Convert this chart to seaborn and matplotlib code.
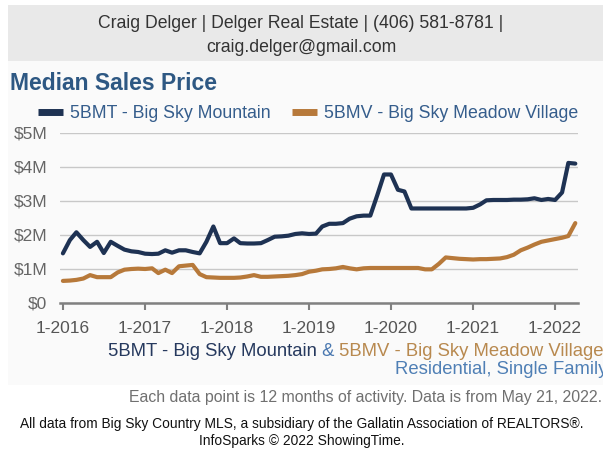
import numpy as np
import pandas as pd
import matplotlib
matplotlib.use('Agg')
import matplotlib.pyplot as plt
import matplotlib.dates as mdates
from matplotlib.lines import Line2D
from matplotlib.patches import Rectangle
import seaborn as sns

# monthly points, Jan 2016 .. Apr 2022 (rolling 12 months), values in $M
months = pd.date_range('2016-01-01', '2022-04-01', freq='MS')
mountain_price_m = [
    1.46, 1.85, 2.08, 1.85, 1.65, 1.80, 1.47, 1.80, 1.68, 1.57, 1.52, 1.50,
    1.45, 1.44, 1.45, 1.55, 1.48, 1.55, 1.55, 1.50, 1.46, 1.80, 2.25, 1.76,
    1.76, 1.90, 1.76, 1.75, 1.75, 1.76, 1.85, 1.95, 1.96, 1.98, 2.03, 2.05,
    2.03, 2.04, 2.25, 2.33, 2.33, 2.35, 2.48, 2.55, 2.57, 2.57, 3.17, 3.78,
    3.78, 3.33, 3.28, 2.78, 2.78, 2.78, 2.78, 2.78, 2.78, 2.78, 2.78, 2.78,
    2.80, 2.90, 3.02, 3.03, 3.03, 3.03, 3.04, 3.04, 3.05, 3.08, 3.03, 3.06,
    3.03, 3.25, 4.12, 4.10,
]
meadow_price_m = [
    0.65, 0.66, 0.68, 0.72, 0.82, 0.76, 0.76, 0.76, 0.90, 0.98, 1.00, 1.01,
    1.00, 1.02, 0.88, 0.98, 0.88, 1.08, 1.10, 1.12, 0.85, 0.76, 0.75, 0.74,
    0.74, 0.74, 0.75, 0.78, 0.82, 0.77, 0.77, 0.78, 0.79, 0.80, 0.82, 0.85,
    0.92, 0.95, 0.99, 1.00, 1.02, 1.06, 1.02, 0.99, 1.02, 1.03, 1.03, 1.03,
    1.03, 1.03, 1.03, 1.03, 1.03, 0.99, 0.99, 1.15, 1.34, 1.32, 1.30, 1.29,
    1.28, 1.29, 1.29, 1.30, 1.31, 1.35, 1.42, 1.55, 1.63, 1.72, 1.80, 1.84,
    1.88, 1.92, 1.97, 2.35,
]
series_names = ['5BMT - Big Sky Mountain', '5BMV - Big Sky Meadow Village']
y_ticks = [0, 1, 2, 3, 4, 5]
year_ticks = pd.date_range('2016-01-01', '2022-01-01', freq='YS')

NAVY = '#1e3253'
BRONZE = '#b7793a'
TITLE_BLUE = '#2e5883'
LEGEND_BLUE = '#355d8c'

df = pd.DataFrame({
    'month': list(months) * 2,
    'price': mountain_price_m + meadow_price_m,
    'area': [series_names[0]] * len(months) + [series_names[1]] * len(months),
})

sns.set_theme(style='white')
plt.rcParams['font.family'] = ['Liberation Sans', 'DejaVu Sans']

W, H = 603, 450
fig = plt.figure(figsize=(W / 100, H / 100), dpi=100)


def fx(x):
    return x / W


def fy(y):
    return 1 - y / H


# header band and faint panel (behind everything)
fig.patches.append(Rectangle((fx(8), fy(61)), fx(603 - 8), 56 / H, transform=fig.transFigure,
                             facecolor='#e9e9e9', edgecolor='none', zorder=-10))
fig.patches.append(Rectangle((fx(8), fy(385)), fx(603 - 8), 324 / H, transform=fig.transFigure,
                             facecolor='#fafafa', edgecolor='none', zorder=-10))

fig.text(fx(301), fy(28), 'Craig Delger | Delger Real Estate | (406) 581-8781 |',
         ha='center', va='baseline', fontsize=12.7, color='#333333')
fig.text(fx(301), fy(52), 'craig.delger@gmail.com',
         ha='center', va='baseline', fontsize=12.7, color='#333333')
fig.text(fx(10), fy(90), 'Median Sales Price', ha='left', va='baseline',
         fontsize=16.5, fontweight='bold', color=TITLE_BLUE)

ax = fig.add_axes([fx(60), fy(303), fx(578 - 60), 170 / H])
ax.set_facecolor('none')
sns.lineplot(data=df, x='month', y='price', hue='area', hue_order=series_names,
             palette=[NAVY, BRONZE], linewidth=3, legend=False, ax=ax, zorder=3)

x0 = mdates.date2num(months[0]) - 13
x1 = mdates.date2num(months[-1]) + 12
ax.set_xlim(x0, x1)
ax.set_ylim(0, 5)
ax.set_yticks(y_ticks)
ax.set_yticklabels(['$0'] + ['$%dM' % v for v in y_ticks[1:]])
ax.set_xticks(year_ticks)
ax.set_xticklabels(['1-%d' % d.year for d in year_ticks])
ax.set_xlabel('')
ax.set_ylabel('')
ax.grid(axis='y', color='#c8c8c8', linewidth=1)
ax.grid(axis='x', visible=False)
for s in ['top', 'right', 'left']:
    ax.spines[s].set_visible(False)
ax.spines['bottom'].set_color('#808080')
ax.spines['bottom'].set_linewidth(1.8)
ax.tick_params(axis='y', length=0, pad=9, labelsize=12.5, labelcolor='#666666')
ax.tick_params(axis='x', direction='out', length=5, width=1.5, color='#808080',
               pad=8, labelsize=12.5, labelcolor='#555555', bottom=True)

handles = [Line2D([0], [0], color=NAVY, linewidth=5, solid_capstyle='butt'),
           Line2D([0], [0], color=BRONZE, linewidth=5, solid_capstyle='butt')]
leg = fig.legend(handles, series_names, loc='lower left', bbox_to_anchor=(fx(38), fy(122)),
                 ncol=2, frameon=False, fontsize=12.8, handlelength=1.4, handletextpad=0.4,
                 columnspacing=1.2, borderaxespad=0, borderpad=0)
for t in leg.get_texts():
    t.set_color(LEGEND_BLUE)

# subtitle lines under the chart
t1 = fig.text(fx(108), fy(356), '5BMT - Big Sky Mountain', ha='left', va='baseline',
              fontsize=13.3, color='#26395e')
t2 = ax.annotate(' & ', xy=(1, 0), xycoords=t1, ha='left', va='bottom',
                 fontsize=13.3, color='#4a78b0', annotation_clip=False)
t3 = ax.annotate('5BMV - Big Sky Meadow Village', xy=(1, 0), xycoords=t2, ha='left', va='bottom',
                 fontsize=13.3, color='#b8894f', annotation_clip=False)
fig.text(fx(607), fy(374), 'Residential, Single Family', ha='right', va='baseline',
         fontsize=13.3, color='#4f7fb5')
fig.text(fx(602), fy(402), 'Each data point is 12 months of activity. Data is from May 21, 2022.',
         ha='right', va='baseline', fontsize=11.4, color='#707070')
fig.text(fx(302), fy(428), 'All data from Big Sky Country MLS, a subsidiary of the Gallatin Association of REALTORS\u00ae.',
         ha='center', va='baseline', fontsize=9.9, color='#111111')
fig.text(fx(302), fy(445), 'InfoSparks \u00a9 2022 ShowingTime.',
         ha='center', va='baseline', fontsize=9.9, color='#111111')

fig.savefig('out.png', dpi=100, facecolor='white')
